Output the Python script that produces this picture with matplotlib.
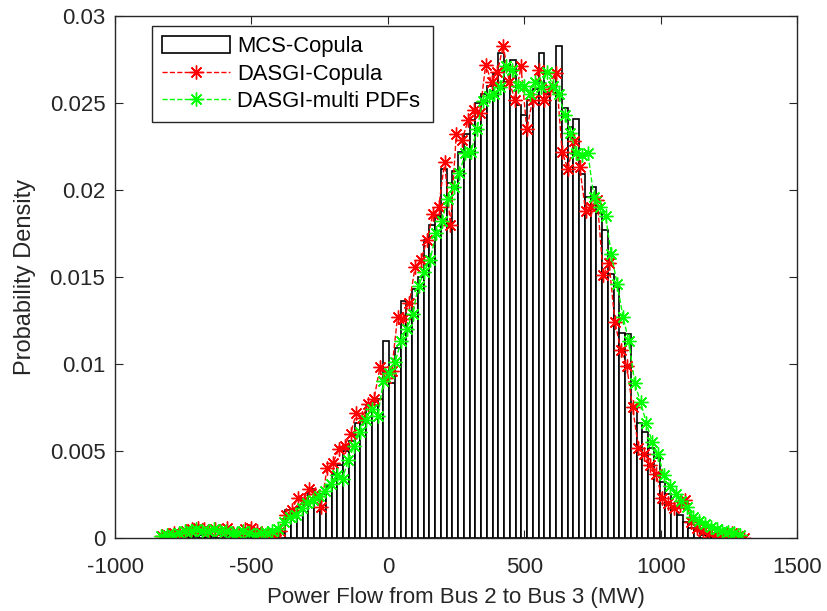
import numpy as np
import matplotlib.pyplot as plt
from matplotlib.ticker import FixedLocator

# MCS-Copula histogram: 100 bins between hist_lo and hist_hi
hist_lo, hist_hi = -818.3, 1291.7
mcs_density = [
    0.0001, 0.0001, 0.0001, 0.0001, 0.0002, 0.0001, 0.0002, 0.0001, 0.0001, 0.0002,
    0.0001, 0.0001, 0.0002, 0.0001, 0.0001, 0.0002, 0.0001, 0.0001, 0.0001, 0.0002,
    0.0003, 0.0016, 0.0014, 0.0018, 0.0021, 0.0028, 0.0022, 0.0025, 0.0030, 0.0037,
    0.0042, 0.0050, 0.0056, 0.0066, 0.0067, 0.0076, 0.0078, 0.0080, 0.0113, 0.0089,
    0.0109, 0.0136, 0.0128, 0.0143, 0.0150, 0.0171, 0.0180, 0.0185, 0.0212, 0.0204,
    0.0211, 0.0222, 0.0232, 0.0240, 0.0250, 0.0255, 0.0260, 0.0267, 0.0279, 0.0262,
    0.0275, 0.0249, 0.0243, 0.0252, 0.0258, 0.0279, 0.0255, 0.0258, 0.0283, 0.0247,
    0.0236, 0.0241, 0.0209, 0.0196, 0.0202, 0.0187, 0.0177, 0.0152, 0.0144, 0.0118,
    0.0117, 0.0075, 0.0066, 0.0061, 0.0052, 0.0046, 0.0032, 0.0025, 0.0018, 0.0013,
    0.0009, 0.0006, 0.0004, 0.0002, 0.0001, 0.0001, 0.0000, 0.0001, 0.0000, 0.0000,
]

# DASGI-Copula, evaluated on an even grid
copula_lo, copula_hi = -826.0, 1306.5
copula_pdf = [
    0.0001, 0.0002, 0.0003, 0.0002, 0.0004, 0.0005, 0.0006, 0.0005, 0.0004, 0.0005,
    0.0004, 0.0006, 0.0003, 0.0001, 0.0005, 0.0006, 0.0004, 0.0002, 0.0001, 0.0002,
    0.0004, 0.0013, 0.0016, 0.0023, 0.0022, 0.0028, 0.0025, 0.0018, 0.0040, 0.0043,
    0.0051, 0.0053, 0.0060, 0.0072, 0.0069, 0.0077, 0.0080, 0.0098, 0.0092, 0.0096,
    0.0127, 0.0126, 0.0135, 0.0156, 0.0160, 0.0171, 0.0186, 0.0190, 0.0216, 0.0180,
    0.0232, 0.0229, 0.0240, 0.0246, 0.0244, 0.0272, 0.0262, 0.0268, 0.0283, 0.0262,
    0.0252, 0.0271, 0.0235, 0.0252, 0.0269, 0.0252, 0.0258, 0.0267, 0.0222, 0.0212,
    0.0228, 0.0213, 0.0188, 0.0190, 0.0194, 0.0151, 0.0158, 0.0124, 0.0108, 0.0099,
    0.0075, 0.0052, 0.0048, 0.0042, 0.0037, 0.0023, 0.0020, 0.0017, 0.0019, 0.0022,
    0.0009, 0.0006, 0.0004, 0.0003, 0.0002, 0.0001, 0.0002, 0.0003, 0.0001, 0.0000,
]

# DASGI-multi PDFs, evaluated on an even grid
multi_lo, multi_hi = -830.0, 1290.6
multi_pdf = [
    0.0001, 0.0002, 0.0002, 0.0003, 0.0004, 0.0004, 0.0005, 0.0004, 0.0004, 0.0005,
    0.0004, 0.0004, 0.0003, 0.0003, 0.0004, 0.0003, 0.0002, 0.0003, 0.0003, 0.0004,
    0.0005, 0.0009, 0.0012, 0.0013, 0.0017, 0.0020, 0.0022, 0.0024, 0.0027, 0.0031,
    0.0036, 0.0034, 0.0045, 0.0053, 0.0061, 0.0068, 0.0074, 0.0070, 0.0090, 0.0095,
    0.0101, 0.0113, 0.0120, 0.0129, 0.0145, 0.0153, 0.0160, 0.0175, 0.0182, 0.0195,
    0.0202, 0.0210, 0.0221, 0.0222, 0.0235, 0.0251, 0.0254, 0.0255, 0.0259, 0.0271,
    0.0269, 0.0260, 0.0260, 0.0255, 0.0262, 0.0259, 0.0268, 0.0260, 0.0255, 0.0243,
    0.0233, 0.0221, 0.0220, 0.0221, 0.0196, 0.0190, 0.0185, 0.0163, 0.0146, 0.0127,
    0.0113, 0.0089, 0.0078, 0.0066, 0.0055, 0.0048, 0.0036, 0.0030, 0.0025, 0.0021,
    0.0018, 0.0012, 0.0010, 0.0008, 0.00065, 0.0005, 0.0004, 0.00036, 0.00027, 0.0002,
]

x_ticks = [-1000, -500, 0, 500, 1000, 1500]
y_ticks = [0, 0.005, 0.01, 0.015, 0.02, 0.025, 0.03]
y_tick_labels = ['0', '0.005', '0.01', '0.015', '0.02', '0.025', '0.03']

plt.rcParams['font.family'] = ['Liberation Sans', 'DejaVu Sans']
plt.rcParams['axes.unicode_minus'] = False
axis_grey = '#262626'

fig = plt.figure(figsize=(8.28, 6.11), dpi=100)
ax = fig.add_axes([0.1389, 0.1195, 0.8237, 0.8543])

edges = np.linspace(hist_lo, hist_hi, len(mcs_density) + 1)
centers = (edges[:-1] + edges[1:]) / 2
bars = ax.bar(centers, mcs_density, width=edges[1] - edges[0], color='white',
              edgecolor='black', linewidth=1.2, label='MCS-Copula')

x_copula = np.linspace(copula_lo, copula_hi, len(copula_pdf))
x_multi = np.linspace(multi_lo, multi_hi, len(multi_pdf))
l1, = ax.plot(x_copula, copula_pdf, color='red', linestyle='--', linewidth=1,
              marker=(8, 2, 0), markersize=10, markeredgewidth=1, label='DASGI-Copula')
l2, = ax.plot(x_multi, multi_pdf, color='#00ff00', linestyle='--', linewidth=1,
              marker=(8, 2, 0), markersize=10, markeredgewidth=1, label='DASGI-multi PDFs')

ax.set_xlim(-1000, 1500)
ax.set_ylim(0, 0.03)
ax.xaxis.set_major_locator(FixedLocator(x_ticks))
ax.set_yticks(y_ticks)
ax.set_yticklabels(y_tick_labels)
ax.tick_params(direction='in', length=6, width=0.8, top=True, right=True,
               labelsize=16, colors=axis_grey)
ax.tick_params(axis='x', pad=14)
ax.tick_params(axis='y', pad=7)
for s in ax.spines.values():
    s.set_color(axis_grey)
    s.set_linewidth(1)

ax.set_xlabel('Power Flow from Bus 2 to Bus 3 (MW)', fontsize=16, color=axis_grey,
              labelpad=6)
ax.set_ylabel('Probability Density', fontsize=17, color=axis_grey, labelpad=10)

leg = ax.legend([bars, l1, l2], ['MCS-Copula', 'DASGI-Copula', 'DASGI-multi PDFs'],
                loc='upper left', bbox_to_anchor=(0.0543, 0.8, 0.412, 0.181),
                mode='expand', borderaxespad=0, fontsize=15.8, handlelength=3.1,
                handleheight=0.82, fancybox=False, framealpha=1, edgecolor=axis_grey,
                borderpad=0.45, labelspacing=0.3, handletextpad=0.32)
leg.get_frame().set_linewidth(1)

fig.savefig('out.png', dpi=100)
